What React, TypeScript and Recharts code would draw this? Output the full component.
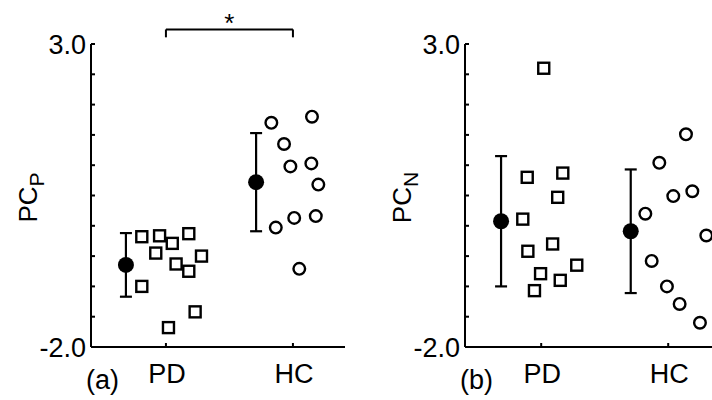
import React from 'react';
import { ScatterChart, Scatter, XAxis, YAxis, ErrorBar, ReferenceLine, ReferenceDot } from 'recharts';

// ---------- data ----------
const categories = ['PD', 'HC'];
const categoryX = [1, 2];
const yTicks = [-2, -1.5, -1, -0.5, 0, 0.5, 1, 1.5, 2, 2.5, 3];
const yTickLabels: Record<string, string> = { '3': '3.0', '-2': '-2.0' };

// Panel (a) PC_P
const pcpPdX = [0.81, 0.95, 1.05, 1.18, 0.92, 1.08, 1.18, 1.28, 0.81, 1.23, 1.02];
const pcpPdY = [-0.18, -0.165, -0.29, -0.13, -0.45, -0.63, -0.75, -0.5, -1.0, -1.42, -1.68];
const pcpHcX = [1.83, 2.15, 1.93, 1.98, 2.145, 2.2, 1.865, 2.01, 2.18, 2.05];
const pcpHcY = [1.7, 1.8, 1.35, 0.98, 1.03, 0.68, -0.03, 0.13, 0.16, -0.71];
const pcpMeanX = [0.685, 1.71];
const pcpMean = [-0.645, 0.72];
const pcpErr = [0.525, 0.81];

// Panel (b) PC_N
const pcnPdX = [1.02, 0.89, 1.17, 1.13, 0.855, 1.09, 0.895, 1.28, 0.995, 1.15, 0.947];
const pcnPdY = [2.6, 0.8, 0.87, 0.47, 0.11, -0.3, -0.42, -0.65, -0.79, -0.9, -1.07];
const pcnHcX = [2.14, 1.93, 2.04, 2.19, 1.82, 2.3, 1.87, 1.99, 2.09, 2.25];
const pcnHcY = [1.51, 1.04, 0.49, 0.57, 0.2, -0.16, -0.58, -1.0, -1.29, -1.6];
const pcnMeanX = [0.684, 1.705];
const pcnMean = [0.075, -0.09];
const pcnErr = [1.075, 1.02];

// significance bracket (panel a)
const bracketY = 3.24;
const bracketFootY = 3.11;
const starY = 3.2;

const FONT = '"Liberation Sans", Arial, Helvetica, sans-serif';

const zip = (xs: number[], ys: number[]) => xs.map((x, i) => ({ x, y: ys[i] }));
const meanData = (xs: number[], ys: number[], es: number[]) =>
  xs.map((x, i) => ({ x, y: ys[i], err: es[i] }));

const SquareShape = (p: any) => (
  <rect x={p.cx - 5.5} y={p.cy - 5.5} width={11} height={11} fill="#fff" stroke="#000" strokeWidth={2.4} />
);
const CircleShape = (p: any) => <circle cx={p.cx} cy={p.cy} r={5.8} fill="#fff" stroke="#000" strokeWidth={2.4} />;
const MeanShape = (p: any) => <circle cx={p.cx} cy={p.cy} r={8} fill="#000" stroke="none" />;

const YTick = (p: any) => {
  const { x, y, payload } = p;
  const lab = yTickLabels[String(payload.value)];
  return (
    <g>
      <line x1={x} x2={x + 4} y1={y} y2={y} stroke="#000" strokeWidth={2} />
      {lab ? (
        <text x={x - 5} y={y + 9.5} textAnchor="end" fontSize={27} fontFamily={FONT} fill="#000">
          {lab}
        </text>
      ) : null}
    </g>
  );
};

const XTick = (p: any) => {
  const { x, y, payload } = p;
  const idx = categoryX.indexOf(payload.value);
  return (
    <g>
      <line x1={x} x2={x} y1={y} y2={y - 4} stroke="#000" strokeWidth={2} />
      <text x={x + 1} y={y + 36} textAnchor="middle" fontSize={27} fontFamily={FONT} fill="#000">
        {idx >= 0 ? categories[idx] : ''}
      </text>
    </g>
  );
};

const YLabel = (p: any) => {
  const vb = p.viewBox || { x: 0, y: 44, width: 91, height: 303 };
  const cx = vb.x + vb.width - 54;
  const cy = vb.y + vb.height / 2 + 2;
  return (
    <text
      x={cx}
      y={cy}
      transform={`rotate(-90, ${cx}, ${cy})`}
      textAnchor="middle"
      fontSize={26}
      fontFamily={FONT}
      fill="#000"
    >
      PC
      <tspan fontSize={21} dy={7}>
        {p.sub}
      </tspan>
    </text>
  );
};

const PanelLabel = (p: any) => {
  const vb = p.viewBox || { x: 91, y: 347, width: 254, height: 53 };
  return (
    <text x={vb.x - p.offset} y={vb.y + 42} fontSize={27} fontFamily={FONT} fill="#000">
      {p.text}
    </text>
  );
};

const StarShape = (p: any) => (
  <text x={p.cx} y={p.cy} textAnchor="middle" fontSize={26} fontFamily={FONT} fill="#000">
    *
  </text>
);

type PanelProps = {
  pdX: number[];
  pdY: number[];
  hcX: number[];
  hcY: number[];
  mX: number[];
  m: number[];
  e: number[];
  sub: string;
  tag: string;
  tagOffset: number;
  domain: [number, number];
  yAxisWidth: number;
  bracket?: boolean;
};

const Panel = (props: PanelProps) => {
  const { pdX, pdY, hcX, hcY, mX, m, e, sub, tag, tagOffset, domain, yAxisWidth, bracket } = props;
  return (
    <ScatterChart width={356} height={400} margin={{ top: 44, right: 356 - yAxisWidth - 254, bottom: 0, left: 0 }}>
      <XAxis
        type="number"
        dataKey="x"
        domain={domain}
        ticks={categoryX}
        interval={0}
        allowDataOverflow
        height={53}
        tickSize={0}
        tickMargin={0}
        tickLine={false}
        axisLine={{ stroke: '#000', strokeWidth: 2 }}
        tick={<XTick />}
        label={<PanelLabel text={tag} offset={tagOffset} />}
      />
      <YAxis
        type="number"
        dataKey="y"
        domain={[-2, 3]}
        ticks={yTicks}
        interval={0}
        allowDataOverflow
        width={yAxisWidth}
        tickSize={0}
        tickMargin={0}
        tickLine={false}
        axisLine={{ stroke: '#000', strokeWidth: 2 }}
        tick={<YTick />}
        label={<YLabel sub={sub} />}
      />
      <Scatter data={zip(pdX, pdY)} shape={SquareShape} isAnimationActive={false} />
      <Scatter data={zip(hcX, hcY)} shape={CircleShape} isAnimationActive={false} />
      <Scatter data={meanData(mX, m, e)} shape={MeanShape} isAnimationActive={false}>
        <ErrorBar dataKey="err" direction="y" width={6} stroke="#000" strokeWidth={2.2} isAnimationActive={false} />
      </Scatter>
      {bracket ? (
        <ReferenceLine
          segment={[
            { x: categoryX[0], y: bracketY },
            { x: categoryX[1], y: bracketY },
          ]}
          stroke="#000"
          strokeWidth={2}
          ifOverflow="visible"
        />
      ) : null}
      {bracket ? (
        <ReferenceLine
          segment={[
            { x: categoryX[0], y: bracketY },
            { x: categoryX[0], y: bracketFootY },
          ]}
          stroke="#000"
          strokeWidth={2}
          ifOverflow="visible"
        />
      ) : null}
      {bracket ? (
        <ReferenceLine
          segment={[
            { x: categoryX[1], y: bracketY },
            { x: categoryX[1], y: bracketFootY },
          ]}
          stroke="#000"
          strokeWidth={2}
          ifOverflow="visible"
        />
      ) : null}
      {bracket ? (
        <ReferenceDot
          x={(categoryX[0] + categoryX[1]) / 2}
          y={starY}
          r={0}
          ifOverflow="visible"
          shape={StarShape}
        />
      ) : null}
    </ScatterChart>
  );
};

export default function App() {
  return (
    <div
      style={{
        position: 'fixed',
        left: 0,
        top: 0,
        width: 712,
        height: 400,
        overflow: 'hidden',
        background: '#fff',
      }}
    >
      <div style={{ position: 'absolute', left: 0, top: 0 }}>
        <Panel
          pdX={pcpPdX}
          pdY={pcpPdY}
          hcX={pcpHcX}
          hcY={pcpHcY}
          mX={pcpMeanX}
          m={pcpMean}
          e={pcpErr}
          sub="P"
          tag="(a)"
          tagOffset={76}
          domain={[0.41, 2.41]}
          yAxisWidth={91}
          bracket
        />
      </div>
      <div style={{ position: 'absolute', left: 373, top: 0 }}>
        <Panel
          pdX={pcnPdX}
          pdY={pcnPdY}
          hcX={pcnHcX}
          hcY={pcnHcY}
          mX={pcnMeanX}
          m={pcnMean}
          e={pcnErr}
          sub="N"
          tag="(b)"
          tagOffset={67}
          domain={[0.4, 2.4]}
          yAxisWidth={92}
        />
      </div>
    </div>
  );
}
